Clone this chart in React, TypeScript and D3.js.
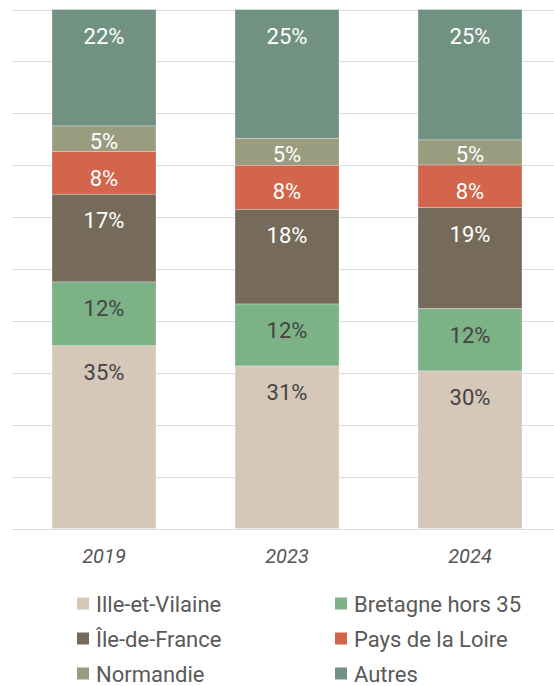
import React from "react";
import * as d3 from "d3";

const years = ["2019", "2023", "2024"];
const seriesNames = ["Ille-et-Vilaine", "Bretagne hors 35", "Île-de-France", "Pays de la Loire", "Normandie", "Autres"];
const illeEtVilaine = [35.2, 31.3, 30.35];
const bretagne = [12.3, 11.95, 12.0];
const ileDeFrance = [16.9, 18.24, 19.46];
const paysDeLaLoire = [8.2, 8.48, 8.23];
const normandie = [4.95, 5.2, 4.82];
const autres = [22.45, 24.82, 25.14];
const gridTicks = [0, 10, 20, 30, 40, 50, 60, 70, 80, 90, 100];

const colors = ["#d5c8b8", "#7db287", "#766b5a", "#d2654b", "#999c7f", "#719283"];
const labelColors = ["#444444", "#444444", "#ffffff", "#ffffff", "#ffffff", "#ffffff"];

export default function App() {
  const W = 554, H = 686;
  const seriesValues = [illeEtVilaine, bretagne, ileDeFrance, paysDeLaLoire, normandie, autres];
  const rows = years.map((y, i) => {
    const r: any = { year: y };
    seriesNames.forEach((s, k) => (r[s] = seriesValues[k][i]));
    return r;
  });
  const stack = d3.stack().keys(seriesNames)(rows as any);
  const x = d3.scaleBand().domain(years).range([12.5, 561.5]).paddingInner(0.4317).paddingOuter(0.2158);
  const y = d3.scaleLinear().domain([0, 100]).range([528.5, 9.5]);
  const font = "Roboto, 'Noto Sans', sans-serif";

  const legendRows = [
    [0, 1],
    [2, 3],
    [4, 5],
  ];

  return (
    <div style={{ position: "absolute", left: 0, top: 0 }}>
      <svg width={W} height={H} style={{ display: "block" }}>
        <rect width={W} height={H} fill="#ffffff" />
        {gridTicks.map((t) => (
          <line key={t} x1={12} x2={W} y1={Math.round(y(t)) + 0.5} y2={Math.round(y(t)) + 0.5} stroke="#dcdcdc" strokeWidth={1} />
        ))}
        {stack
          .slice()
          .reverse()
          .map((layer) => {
            const k = seriesNames.indexOf(layer.key);
            return (
              <g key={layer.key}>
                {layer.map((d: any, i: number) => {
                  const x0 = x(years[i])!;
                  const top = y(d[1]);
                  const bot = y(d[0]);
                  const h = bot - top;
                  const val = d[1] - d[0];
                  const cx = x0 + x.bandwidth() / 2;
                  const ty = h >= 40 ? top + 34 : (top + bot) / 2 + 10;
                  return (
                    <g key={i}>
                      <rect x={x0} y={top} width={x.bandwidth()} height={h} fill={colors[k]} stroke="#ffffff" strokeOpacity={0.35} strokeWidth={0.8} />
                      <text x={cx} y={ty} textAnchor="middle" fontFamily={font} fontSize={22} fill={labelColors[k]}>
                        {Math.round(val) + "%"}
                      </text>
                    </g>
                  );
                })}
              </g>
            );
          })}
        {years.map((yr) => (
          <text key={yr} x={x(yr)! + x.bandwidth() / 2} y={563} textAnchor="middle" fontFamily={font} fontStyle="italic" fontSize={20} fill="#555555">
            {yr}
          </text>
        ))}
        {legendRows.map((row, ri) =>
          row.map((k, ci) => {
            const lx = ci === 0 ? 77 : 335;
            const base = 611.5 + ri * 35;
            return (
              <g key={k}>
                <rect x={lx} y={base - 14} width={12} height={12} fill={colors[k]} />
                <text x={lx + 19} y={base} fontFamily={font} fontSize={22} fill="#595959">
                  {seriesNames[k]}
                </text>
              </g>
            );
          })
        )}
      </svg>
    </div>
  );
}
